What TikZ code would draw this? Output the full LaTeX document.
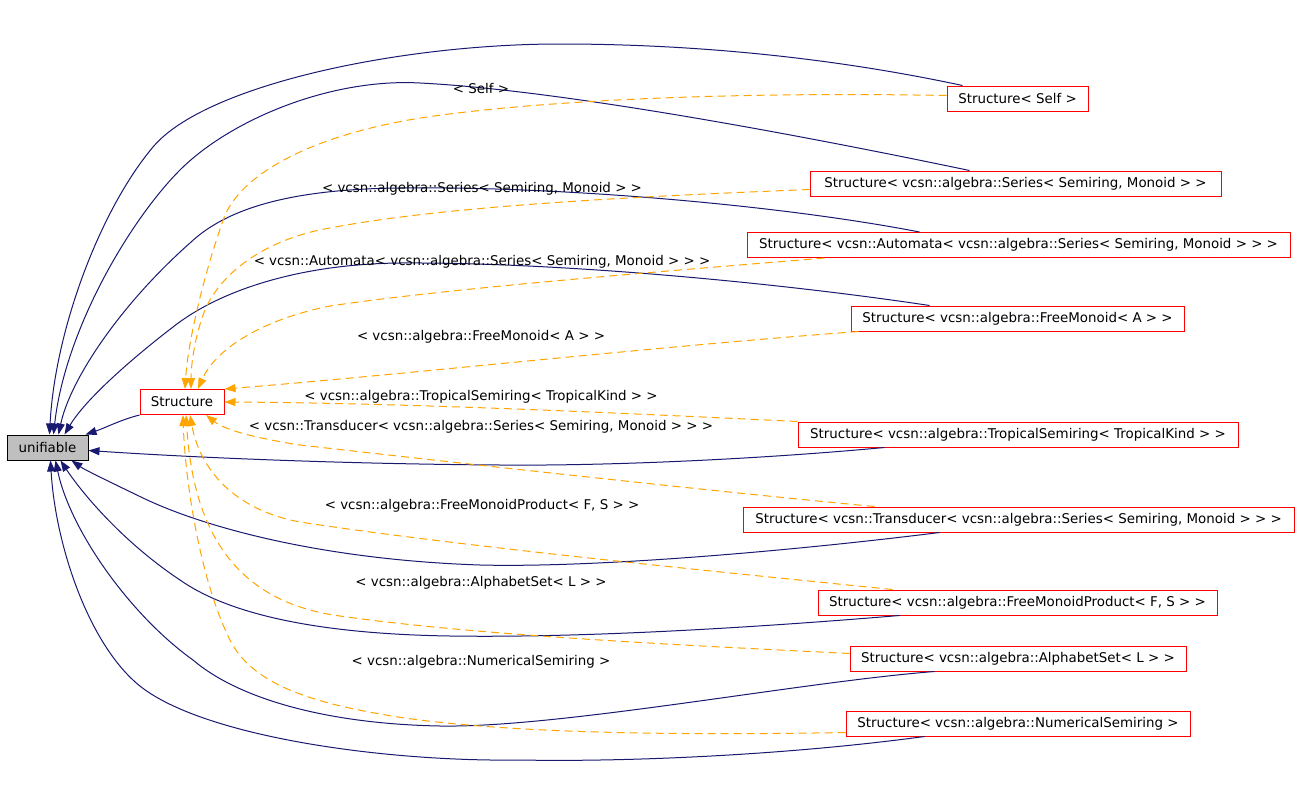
\documentclass[tikz,border=0pt]{standalone}
\usepackage{fontspec}
\setmainfont{DejaVu Sans}
\usetikzlibrary{arrows.meta}

\definecolor{edgenavy}{HTML}{191970}
\definecolor{edgeorange}{HTML}{FFA500}
\definecolor{basegray}{HTML}{BFBFBF}

\tikzset{
  txt/.style={font=\fontsize{13.4}{15}\selectfont},
  cls/.style={txt, draw=red, line width=1pt, rectangle, minimum height=25pt, inner sep=0pt},
  basecls/.style={txt, draw=black, fill=basegray, line width=1pt, rectangle, minimum height=25pt, inner sep=0pt},
  inh/.style={draw=edgenavy, line width=1pt, -{Triangle[length=11pt,width=8pt]}},
  tmpl/.style={draw=edgeorange, line width=1pt, dash pattern=on 8pt off 5pt, -{Triangle[length=11pt,width=8pt]}},
  lbl/.style={txt, inner sep=0pt},
}

\begin{document}
\begin{tikzpicture}[x=1pt, y=-1pt]
  \useasboundingbox[fill=white] (0,0) rectangle (1299,787);

  \node[basecls, minimum width=81pt] (unif) at (47.5,447.5) {unifiable};
  \node[cls, minimum width=84pt] (str) at (182,402) {Structure};

  \node[cls, minimum width=141pt] (self) at (1017.5,98.5) {Structure< Self >};
  \node[cls, minimum width=411pt] (series) at (1015.5,183.5) {Structure< vcsn::algebra::Series< Semiring, Monoid > >};
  \node[cls, minimum width=543pt] (autom) at (1018.5,245) {Structure< vcsn::Automata< vcsn::algebra::Series< Semiring, Monoid > > >};
  \node[cls, minimum width=333pt] (freemon) at (1017.5,318.5) {Structure< vcsn::algebra::FreeMonoid< A > >};
  \node[cls, minimum width=440pt] (tropic) at (1018,434.5) {Structure< vcsn::algebra::TropicalSemiring< TropicalKind > >};
  \node[cls, minimum width=551pt] (transd) at (1018.5,519.5) {Structure< vcsn::Transducer< vcsn::algebra::Series< Semiring, Monoid > > >};
  \node[cls, minimum width=399pt] (fmprod) at (1017.5,602.5) {Structure< vcsn::algebra::FreeMonoidProduct< F, S > >};
  \node[cls, minimum width=336pt] (alpha) at (1018,658.5) {Structure< vcsn::algebra::AlphabetSet< L > >};
  \node[cls, minimum width=344pt] (numsr) at (1018,723.5) {Structure< vcsn::algebra::NumericalSemiring >};

  % inheritance
  \draw[inh] (str.south west) .. controls (120,420) and (105,428) .. ([xshift=-3pt]unif.north east);
  \draw[inh] ([xshift=16pt]self.north west) .. controls (820,55) and (680,44) .. (560,44)
    .. controls (400,44) and (205,85) .. (153,147) .. controls (100,210) and (55,330) .. ([xshift=2pt]unif.north);
  \draw[inh] ([xshift=160pt]series.north west) .. controls (800,135) and (560,90) .. (420,83)
    .. controls (330,78) and (230,120) .. (180,170) .. controls (130,220) and (65,330) .. ([xshift=6pt]unif.north);
  \draw[inh] ([xshift=173pt]autom.north west) .. controls (780,205) and (560,186) .. (400,188)
    .. controls (300,189) and (230,205) .. (190,243) .. controls (120,305) and (70,380) .. ([xshift=11pt]unif.north);
  \draw[inh] ([xshift=79pt]freemon.north west) .. controls (780,283) and (560,262) .. (400,263)
    .. controls (300,264) and (220,290) .. (173,327) .. controls (130,360) and (85,400) .. ([xshift=17pt]unif.north);
  \draw[inh] ([xshift=87pt]tropic.south west) .. controls (750,460) and (600,466) .. (500,465)
    .. controls (350,464) and (200,458) .. ([yshift=-3pt]unif.east);
  \draw[inh] ([xshift=197pt]transd.south west) .. controls (800,550) and (600,568) .. (480,565)
    .. controls (330,560) and (210,530) .. (143,498) .. controls (110,482) and (85,470) .. ([xshift=24pt]unif.south);
  \draw[inh] ([xshift=82pt]fmprod.south west) .. controls (750,628) and (580,638) .. (450,636)
    .. controls (320,634) and (230,615) .. (180,580) .. controls (120,540) and (80,490) .. ([xshift=13pt]unif.south);
  \draw[inh] ([xshift=85pt]alpha.south west) .. controls (800,682) and (560,728) .. (440,726)
    .. controls (330,724) and (240,700) .. (193,660) .. controls (130,615) and (70,530) .. ([xshift=8pt]unif.south);
  \draw[inh] ([xshift=79pt]numsr.south west) .. controls (780,756) and (620,762) .. (520,760)
    .. controls (380,762) and (190,735) .. (133,680) .. controls (85,635) and (55,540) .. ([xshift=3pt]unif.south);

  % template instances
  \draw[tmpl] ([yshift=3pt]self.west) .. controls (760,92) and (560,98) .. (427,117)
    .. controls (320,133) and (245,170) .. (225,215) .. controls (205,270) and (188,340) .. ([xshift=3pt]str.north);
  \draw[tmpl] ([yshift=-6pt]series.west) .. controls (650,196) and (450,205) .. (330,228)
    .. controls (270,238) and (222,270) .. (205,310) .. controls (195,335) and (191,365) .. ([xshift=9pt]str.north);
  \draw[tmpl] ([xshift=78pt]autom.south west) .. controls (680,270) and (450,288) .. (330,306)
    .. controls (260,320) and (215,350) .. ([xshift=16pt]str.north);
  \draw[tmpl] ([xshift=8pt]freemon.south west) .. controls (650,347) and (400,375) .. (str.north east);
  \draw[tmpl] (tropic.north west) .. controls (600,412) and (400,403) .. (str.east);
  \draw[tmpl] ([xshift=132pt]transd.north west) .. controls (700,490) and (450,462) .. (300,445)
    .. controls (255,438) and (225,430) .. ([xshift=24pt]str.south);
  \draw[tmpl] ([xshift=75pt]fmprod.north west) .. controls (700,570) and (450,545) .. (300,522)
    .. controls (235,510) and (200,470) .. ([xshift=8pt]str.south);
  \draw[tmpl] ([yshift=5pt]alpha.west) .. controls (700,646) and (480,636) .. (340,616)
    .. controls (220,600) and (192,510) .. ([xshift=4pt]str.south);
  \draw[tmpl] ([yshift=4pt]numsr.south west) .. controls (650,736) and (480,732) .. (380,714)
    .. controls (300,700) and (250,680) .. (230,640) .. controls (200,580) and (185,480) .. ([xshift=1pt]str.south);

  \node[lbl] (lself) at (481,89) {< Self >};
  \node[lbl] (lseries) at (482,189) {< vcsn::algebra::Series< Semiring, Monoid > >};
  \node[lbl] (lautom) at (482,262) {< vcsn::Automata< vcsn::algebra::Series< Semiring, Monoid > > >};
  \node[lbl] (lfreemon) at (481,337) {< vcsn::algebra::FreeMonoid< A > >};
  \node[lbl] (ltropic) at (481,397) {< vcsn::algebra::TropicalSemiring< TropicalKind > >};
  \node[lbl] (ltransd) at (481,427) {< vcsn::Transducer< vcsn::algebra::Series< Semiring, Monoid > > >};
  \node[lbl] (lfmprod) at (482,506) {< vcsn::algebra::FreeMonoidProduct< F, S > >};
  \node[lbl] (lalpha) at (481,583) {< vcsn::algebra::AlphabetSet< L > >};
  \node[lbl] (lnumsr) at (481,662) {< vcsn::algebra::NumericalSemiring >};
\end{tikzpicture}
\end{document}
